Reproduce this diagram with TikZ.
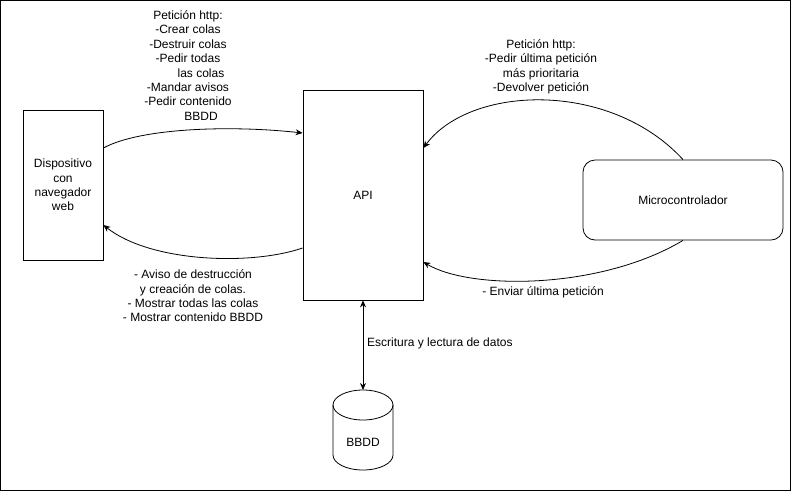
\documentclass[tikz,border=0pt]{standalone}
\usepackage{fontspec}
\setmainfont{Liberation Sans}
\usetikzlibrary{arrows.meta}
\begin{document}
\begin{tikzpicture}[x=1pt,y=-1pt,
  every node/.style={font=\fontsize{12}{14.4}\selectfont},
  box/.style={draw,line width=0.8pt,inner sep=0pt},
  lbl/.style={align=center,inner sep=0pt},
  conn/.style={line width=0.8pt,-{Stealth[length=7pt,width=6pt]}},
  both/.style={line width=0.8pt,{Stealth[length=7pt,width=6pt]}-{Stealth[length=7pt,width=6pt]}}]
\useasboundingbox (0,0) rectangle (791,491);
\draw[line width=0.8pt] (0.5,0.5) rectangle (790,490);
\node[box,minimum width=80pt,minimum height=150pt,align=center] (dev) at (63,185) {Dispositivo\\con\\navegador\\web};
\node[box,minimum width=120pt,minimum height=210pt] (api) at (363,195) {API};
\node[box,rounded corners=12pt,minimum width=200pt,minimum height=80pt] (micro) at (683,200) {Microcontrolador};
% cylinder
\draw[line width=0.8pt] (333,405) -- (333,455) arc[start angle=180,end angle=360,x radius=30,y radius=-15] -- (393,405);
\draw[line width=0.8pt] (363,405) ellipse[x radius=30,y radius=15];
\node[inner sep=0pt] (bbdd) at (363,442) {BBDD};
\coordinate (bbddtop) at (363,390);
% connectors
\draw[conn] ([yshift=37pt]dev.east) .. controls (140,128) and (230,125) .. ([yshift=62pt]api.west);
\draw[conn] ([yshift=-53pt]api.west) .. controls (250,266) and (150,262) .. ([yshift=-40pt]dev.east);
\draw[conn] (micro.north) .. controls (610,80) and (470,85) .. ([yshift=47pt]api.east);
\draw[conn] (micro.south) .. controls (600,290) and (470,290) .. ([yshift=-67pt]api.east);
\draw[both] (api.south) -- (bbddtop);
% labels
\node[lbl] (l1) at (188,65.5) {Petición http:\\-Crear colas\\-Destruir colas\\-Pedir todas\\\hspace*{26pt}las colas\\-Mandar avisos\\-Pedir contenido\\\hspace*{26pt}BBDD};
\node[lbl] (l2) at (193,296) {- Aviso de destrucción\\y creación de colas.\\- Mostrar todas las colas\\- Mostrar contenido BBDD};
\node[lbl] (l3) at (541,67) {Petición http:\\-Pedir última petición\\más prioritaria\\-Devolver petición};
\node[lbl] (l4) at (543,292) {- Enviar última petición};
\node[lbl,anchor=west] (l5) at (367,343) {Escritura y lectura de datos};
\end{tikzpicture}
\end{document}
